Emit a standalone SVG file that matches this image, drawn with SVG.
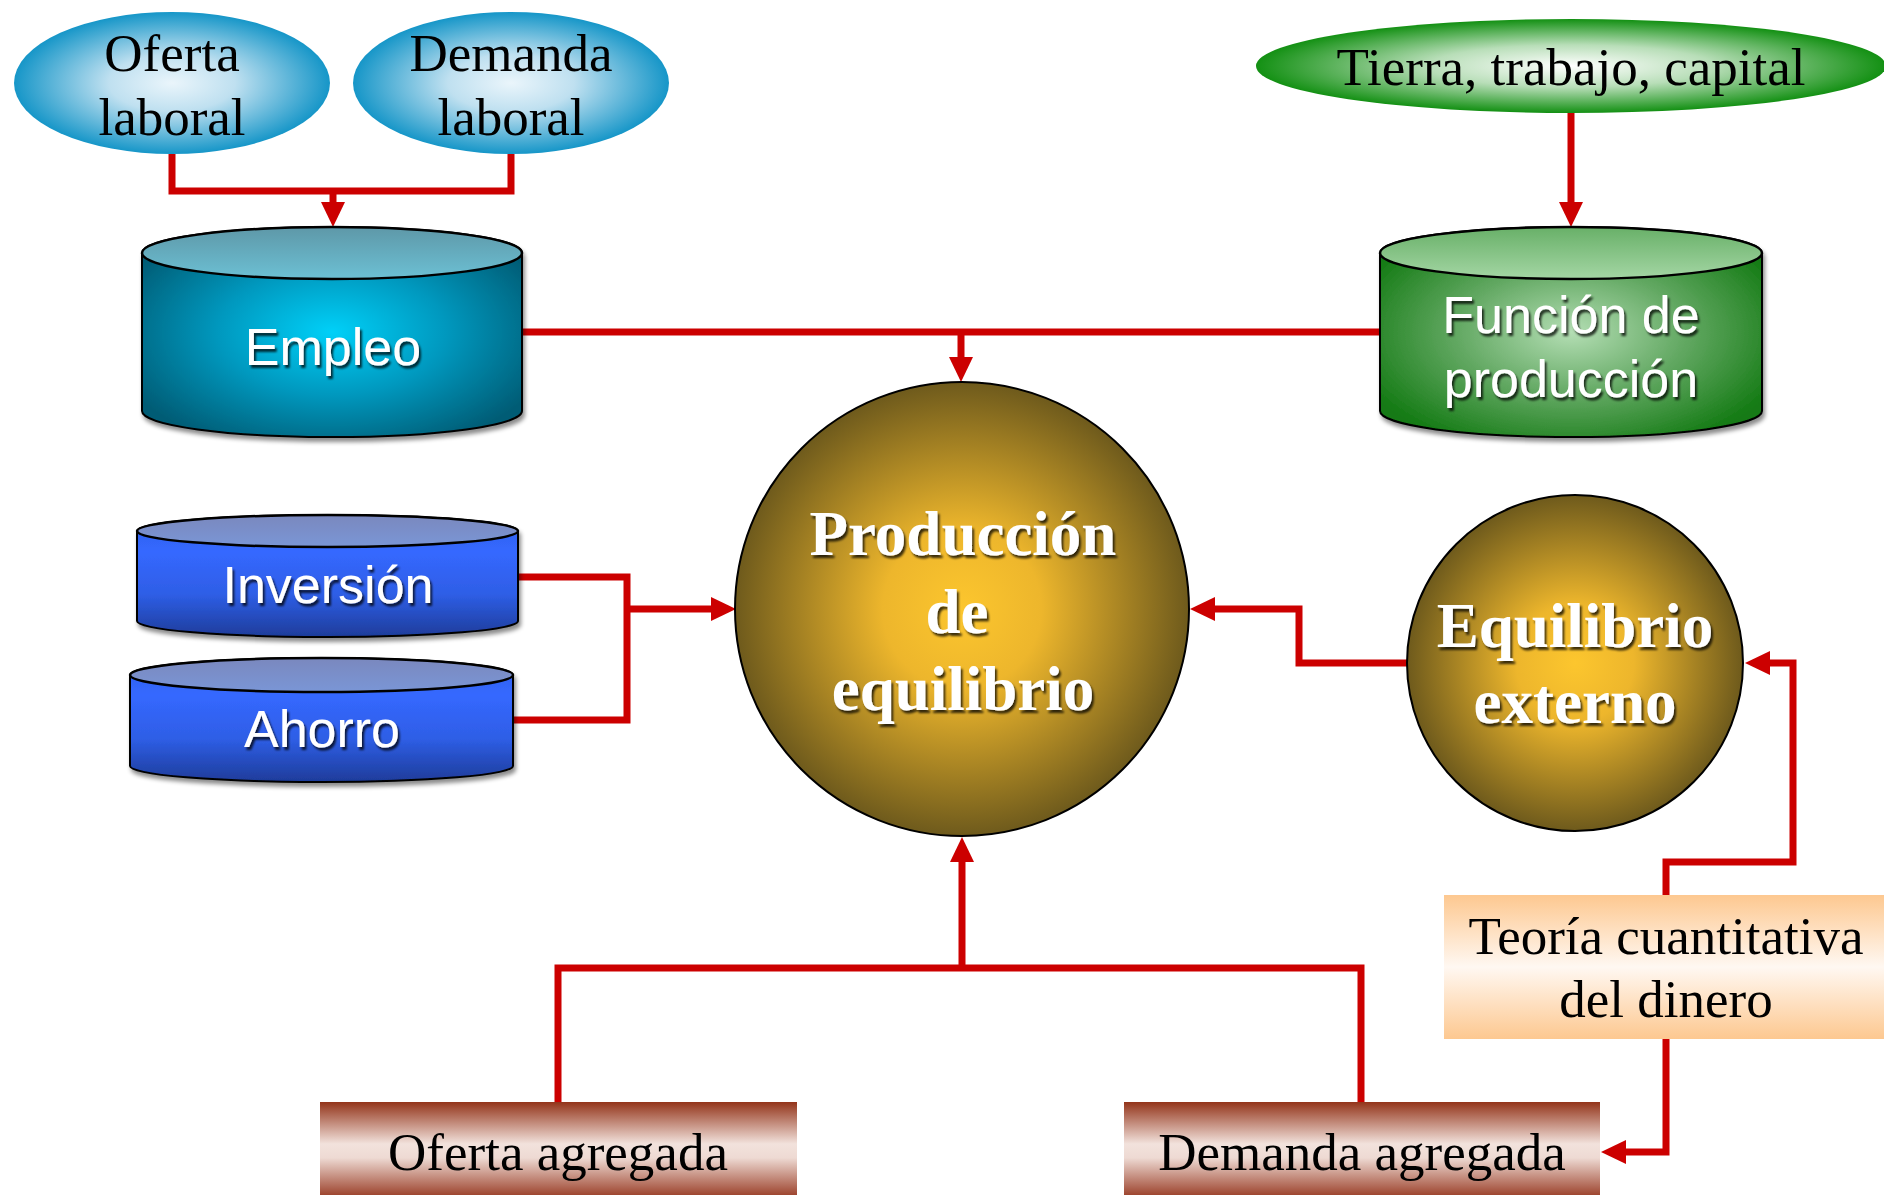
<svg xmlns="http://www.w3.org/2000/svg" width="1884" height="1195" viewBox="0 0 1884 1195">
<defs>
<style>
.con{fill:none;stroke:#CC0000;stroke-width:7;stroke-linejoin:miter}
.arr{fill:none;stroke:#CC0000;stroke-width:7;marker-end:url(#ah)}
.ser{font-family:"Liberation Serif","Times New Roman",serif;font-size:53px;fill:#000;text-anchor:middle}
.cyt{font-family:"Liberation Sans",Arial,sans-serif;font-size:52px;fill:#fff;text-anchor:middle;filter:url(#ts)}
.cir{font-family:"Liberation Serif","Times New Roman",serif;font-weight:bold;font-size:63px;fill:#fff;text-anchor:middle;filter:url(#ts)}
.edge{stroke:#000;stroke-width:2}
</style>
<marker id="ah" viewBox="0 0 25 24" refX="5" refY="12" markerWidth="25" markerHeight="24" markerUnits="userSpaceOnUse" orient="auto">
<path d="M0 0 L25 12 L0 24 Z" fill="#CC0000"/>
</marker>
<filter id="ts" x="-10%" y="-20%" width="120%" height="140%">
<feDropShadow dx="2" dy="3" stdDeviation="1.2" flood-color="#000" flood-opacity="0.75"/>
</filter>
<filter id="cs" x="-5%" y="-5%" width="110%" height="115%">
<feDropShadow dx="2" dy="4" stdDeviation="2" flood-color="#000" flood-opacity="0.45"/>
</filter>
<radialGradient id="gBlue" cx="0.5" cy="0.5" r="0.5">
<stop offset="0" stop-color="#EAF5FB"/><stop offset="0.4" stop-color="#BFE0F0"/><stop offset="1" stop-color="#1696C8"/>
</radialGradient>
<radialGradient id="gGreen" cx="0.5" cy="0.5" r="0.5">
<stop offset="0" stop-color="#FFFFFF"/><stop offset="0.45" stop-color="#B8DEB8"/><stop offset="1" stop-color="#139013"/>
</radialGradient>
<radialGradient id="gTeal" cx="0.5" cy="0.5" r="0.6">
<stop offset="0" stop-color="#00D0F8"/><stop offset="0.5" stop-color="#0098BE"/><stop offset="1" stop-color="#005C75"/>
</radialGradient>
<linearGradient id="gTealTop" x1="0" y1="0" x2="0" y2="1">
<stop offset="0" stop-color="#5E98A8"/><stop offset="1" stop-color="#6CC0D4"/>
</linearGradient>
<radialGradient id="gFun" cx="0.5" cy="0.5" r="0.6">
<stop offset="0" stop-color="#B4DEB4"/><stop offset="0.5" stop-color="#62A862"/><stop offset="1" stop-color="#137A13"/>
</radialGradient>
<linearGradient id="gFunTop" x1="0" y1="0" x2="0" y2="1">
<stop offset="0" stop-color="#68B068"/><stop offset="1" stop-color="#A4D6A4"/>
</linearGradient>
<linearGradient id="gBlu" x1="0" y1="0" x2="0" y2="1">
<stop offset="0" stop-color="#2E5FE8"/><stop offset="0.3" stop-color="#3568FF"/><stop offset="0.65" stop-color="#2E5EE6"/><stop offset="1" stop-color="#1E3C9A"/>
</linearGradient>
<linearGradient id="gBluTop" x1="0" y1="0" x2="0" y2="1">
<stop offset="0" stop-color="#7A88BE"/><stop offset="1" stop-color="#7A96D6"/>
</linearGradient>
<radialGradient id="gGold" cx="0.5" cy="0.5" r="0.5">
<stop offset="0" stop-color="#FCC62E"/><stop offset="0.35" stop-color="#EDB62C"/><stop offset="1" stop-color="#6E5A1C"/>
</radialGradient>
<linearGradient id="gPeach" x1="0" y1="0" x2="0" y2="1">
<stop offset="0" stop-color="#FDC890"/><stop offset="0.5" stop-color="#FFF8F2"/><stop offset="1" stop-color="#FDC890"/>
</linearGradient>
<linearGradient id="gBrown" x1="0" y1="0" x2="0" y2="1">
<stop offset="0" stop-color="#93341A"/><stop offset="0.45" stop-color="#F2E2DC"/><stop offset="0.6" stop-color="#EEDAD3"/><stop offset="1" stop-color="#9E4630"/>
</linearGradient>
</defs>

<g id="connectors">
<path class="con" d="M172 154 V191 H511 V154"/>
<path class="arr" d="M333 191 V207"/>
<path class="arr" d="M1571 113 V207"/>
<path class="con" d="M523 332 H1380"/>
<path class="arr" d="M961 332 V362"/>
<path class="con" d="M518 577 H627 V720 H513"/>
<path class="arr" d="M627 609 H716"/>
<path class="arr" d="M1407 663 H1299 V609 H1210"/>
<path class="arr" d="M1666 895 V862 H1793 V663 H1765"/>
<path class="arr" d="M1666 1039 V1152 H1621"/>
<path class="con" d="M558 1102 V968 H1361 V1102"/>
<path class="arr" d="M962 968 V857"/>
</g>

<g id="oferta-laboral">
<ellipse cx="172" cy="83" rx="158" ry="71" fill="url(#gBlue)"/>
<text class="ser" x="172" y="71" font-size="54">Oferta</text>
<text class="ser" x="172" y="135" font-size="54">laboral</text>
</g>
<g id="demanda-laboral">
<ellipse cx="511" cy="83" rx="158" ry="71" fill="url(#gBlue)"/>
<text class="ser" x="511" y="71">Demanda</text>
<text class="ser" x="511" y="135">laboral</text>
</g>
<g id="tierra">
<ellipse cx="1571" cy="66" rx="315" ry="47" fill="url(#gGreen)"/>
<text class="ser" x="1571" y="85">Tierra, trabajo, capital</text>
</g>

<g id="empleo">
<path d="M142 253 V411 A190 26 0 0 0 522 411 V253 A190 26 0 0 0 142 253 Z" fill="url(#gTeal)" class="edge" filter="url(#cs)"/>
<ellipse cx="332" cy="253" rx="190" ry="26" fill="url(#gTealTop)" stroke="#000" stroke-width="2.5"/>
<text class="cyt" x="333" y="365">Empleo</text>
</g>
<g id="funcion">
<path d="M1380 253 V411 A191 26 0 0 0 1762 411 V253 A191 26 0 0 0 1380 253 Z" fill="url(#gFun)" class="edge" filter="url(#cs)"/>
<ellipse cx="1571" cy="253" rx="191" ry="26" fill="url(#gFunTop)" stroke="#000" stroke-width="2.5"/>
<text class="cyt" x="1571" y="333">Función de</text>
<text class="cyt" x="1571" y="397">producción</text>
</g>
<g id="inversion">
<path d="M137 531 V621 A190.5 16 0 0 0 518 621 V531 A190.5 16 0 0 0 137 531 Z" fill="url(#gBlu)" class="edge" filter="url(#cs)"/>
<ellipse cx="327.5" cy="531" rx="190.5" ry="16" fill="url(#gBluTop)" stroke="#000" stroke-width="2.5"/>
<text class="cyt" x="328" y="603" font-size="50">Inversión</text>
</g>
<g id="ahorro">
<path d="M130 675 V766 A191.5 16 0 0 0 513 766 V675 A191.5 17 0 0 0 130 675 Z" fill="url(#gBlu)" class="edge" filter="url(#cs)"/>
<ellipse cx="321.5" cy="675" rx="191.5" ry="17" fill="url(#gBluTop)" stroke="#000" stroke-width="2.5"/>
<text class="cyt" x="322" y="747" font-size="50">Ahorro</text>
</g>

<g id="produccion">
<circle cx="962" cy="609" r="227" fill="url(#gGold)" class="edge"/>
<text class="cir" x="963" y="555">Producción</text>
<text class="cir" x="957" y="633">de</text>
<text class="cir" x="963" y="710">equilibrio</text>
</g>
<g id="equilibrio-externo">
<circle cx="1575" cy="663" r="168" fill="url(#gGold)" class="edge"/>
<text class="cir" x="1575" y="647">Equilibrio</text>
<text class="cir" x="1575" y="723">externo</text>
</g>

<g id="teoria">
<rect x="1444" y="895" width="440" height="144" fill="url(#gPeach)"/>
<text class="ser" x="1666" y="954">Teoría cuantitativa</text>
<text class="ser" x="1666" y="1017">del dinero</text>
</g>
<g id="oferta-agregada">
<rect x="320" y="1102" width="477" height="93" fill="url(#gBrown)"/>
<text class="ser" x="558" y="1170">Oferta agregada</text>
</g>
<g id="demanda-agregada">
<rect x="1124" y="1102" width="476" height="93" fill="url(#gBrown)"/>
<text class="ser" x="1362" y="1170">Demanda agregada</text>
</g>
</svg>
